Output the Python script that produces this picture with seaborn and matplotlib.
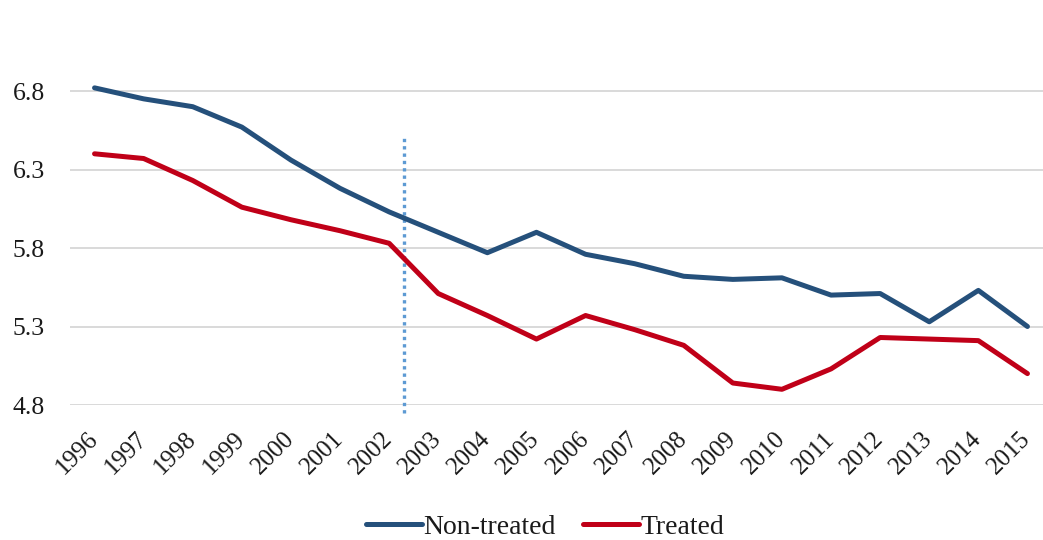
import matplotlib
matplotlib.use("Agg")
import matplotlib.pyplot as plt
from matplotlib.lines import Line2D
import numpy as np
import pandas as pd
import seaborn as sns

# Series values per year
years = list(range(1996, 2016))
non_treated = [6.82, 6.75, 6.70, 6.57, 6.36, 6.18, 6.03, 5.90, 5.77, 5.90,
               5.76, 5.70, 5.62, 5.60, 5.61, 5.50, 5.51, 5.33, 5.53, 5.30]
treated = [6.40, 6.37, 6.23, 6.06, 5.98, 5.91, 5.83, 5.51, 5.37, 5.22,
           5.37, 5.28, 5.18, 4.94, 4.90, 5.03, 5.23, 5.22, 5.21, 5.00]
series_names = ["Non-treated", "Treated"]
y_ticks = [4.8, 5.3, 5.8, 6.3, 6.8]
policy_year = 2002.3
policy_span = (4.75, 6.51)

df = pd.DataFrame({
    "year": years * 2,
    "value": non_treated + treated,
    "group": [series_names[0]] * len(years) + [series_names[1]] * len(years),
})

sns.set_theme(style="white")
plt.rcParams["font.family"] = ["Liberation Serif", "DejaVu Serif"]

colors = {"Non-treated": "#25507b", "Treated": "#c00018"}

fig = plt.figure(figsize=(10.43, 5.40), dpi=100)
ax = fig.add_axes([70 / 1043, 135 / 540, 982 / 1043, 345.4 / 540])

ax.set_xlim(1995.5, 2015.5)
ax.set_ylim(4.8, 7.0)
ax.set_yticks(y_ticks)
ax.set_yticklabels([f"{v:.1f}" for v in y_ticks])
ax.grid(axis="y", color="#d9d9d9", linewidth=1.4)
ax.set_axisbelow(True)
for s in ax.spines.values():
    s.set_visible(False)

# policy marker
ax.plot([policy_year, policy_year], list(policy_span), color="#5d9ad3",
        linewidth=2.4, linestyle=(0, (1.0, 1.2)), zorder=3, clip_on=False)

sns.lineplot(data=df, x="year", y="value", hue="group", palette=colors,
             linewidth=3.6, ax=ax, legend=False, zorder=4,
             solid_joinstyle="round", solid_capstyle="round")

ax.set_xlabel("")
ax.set_ylabel("")
ax.set_xticks(years)
ax.set_xticklabels([str(y) for y in years], rotation=45, ha="right",
                   va="center", rotation_mode="anchor")
ax.tick_params(axis="x", length=0, pad=22, labelsize=18, labelcolor="#1a1a1a")
ax.tick_params(axis="y", length=0, pad=18, labelsize=18.5, labelcolor="#1a1a1a")

handles = [Line2D([0], [0], color=colors[n], linewidth=3.6, solid_capstyle="round")
           for n in series_names]
fig.legend(handles, series_names, loc="center",
           bbox_to_anchor=(545 / 1043, 1 - 527 / 540), ncol=2, frameon=False,
           fontsize=20, handlelength=2.0, handletextpad=0.05,
           columnspacing=1.0, labelcolor="#1a1a1a")

fig.savefig("out.png", dpi=100)
